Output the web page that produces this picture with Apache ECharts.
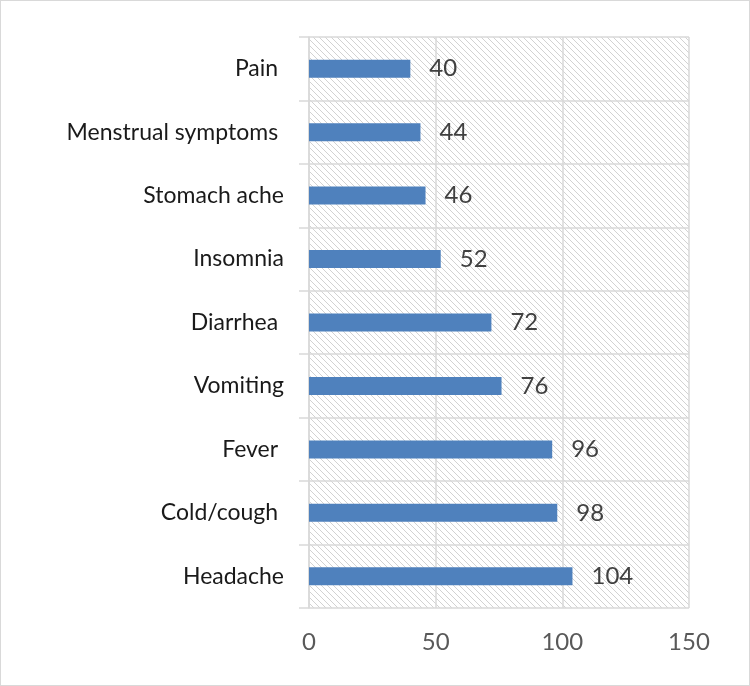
<!DOCTYPE html>
<html>
<head>
<meta charset="utf-8">
<script src="https://cdn.jsdelivr.net/npm/echarts@6/dist/echarts.min.js"></script>
<style>
  html, body { margin: 0; padding: 0; background: #fff; }
  #container { width: 750px; height: 686px; box-sizing: border-box; border: 1px solid #d9d9d9; }
</style>
</head>
<body>
<div id="container"></div>
<script>
// categories, bottom to top
var categories = ['Headache', 'Cold/cough ', 'Fever ', 'Vomiting', 'Diarrhea ', 'Insomnia', 'Stomach ache', 'Menstrual symptoms ', 'Pain '];
var counts = [104, 98, 96, 76, 72, 52, 46, 44, 40];
var xTicks = [0, 50, 100, 150];

// hatch pattern for the plot area
var hatch = document.createElement('canvas');
hatch.width = 6;
hatch.height = 6;
var ctx = hatch.getContext('2d');
ctx.fillStyle = '#ffffff';
ctx.fillRect(0, 0, 6, 6);
ctx.strokeStyle = '#d2d2d2';
ctx.lineWidth = 1;
ctx.beginPath();
ctx.moveTo(-1, -1); ctx.lineTo(7, 7);
ctx.moveTo(-1, 5); ctx.lineTo(1, 7);
ctx.moveTo(5, -1); ctx.lineTo(7, 1);
ctx.stroke();

var dom = document.getElementById('container');
var myChart = echarts.init(dom);
var font = 'Lato, "Open Sans", sans-serif';

var option = {
  animation: false,
  grid: {
    left: 308,
    right: 60,
    top: 36,
    bottom: 77,
    show: true,
    borderWidth: 0,
    backgroundColor: { image: hatch, repeat: 'repeat' }
  },
  xAxis: {
    type: 'value',
    min: xTicks[0],
    max: xTicks[xTicks.length - 1],
    interval: 50,
    axisLine: { show: false },
    axisTick: { show: false },
    splitLine: { show: true, lineStyle: { color: '#d9d9d9', width: 1.5 } },
    axisLabel: { margin: 22, fontSize: 24, color: '#595959', fontFamily: font }
  },
  yAxis: {
    type: 'category',
    data: categories,
    axisLine: { show: true, lineStyle: { color: '#d9d9d9', width: 1.5 } },
    axisTick: { show: true, length: 10, lineStyle: { color: '#d9d9d9', width: 1.5 } },
    splitLine: { show: true, lineStyle: { color: '#d9d9d9', width: 1.5 } },
    axisLabel: { margin: 25, fontSize: 23, color: '#1a1a1a', fontFamily: font }
  },
  series: [{
    type: 'bar',
    data: counts,
    barWidth: 18,
    itemStyle: { color: '#4f81bd' },
    label: {
      show: true,
      position: 'right',
      distance: 19,
      fontSize: 24,
      color: '#404040',
      fontFamily: font
    }
  }]
};
myChart.setOption(option);
</script>
</body>
</html>
